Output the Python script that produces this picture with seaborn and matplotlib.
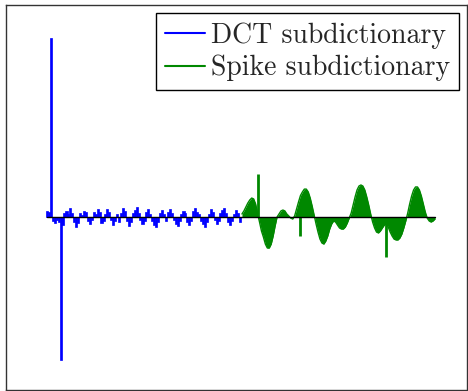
import numpy as np
import pandas as pd
import matplotlib
matplotlib.use("Agg")
import matplotlib.pyplot as plt
from matplotlib.lines import Line2D
import seaborn as sns

# DCT subdictionary coefficients (100 values)
dct_vals = [0.034, 0.028, 1.000, -0.022, -0.034, -0.017, -0.028, -0.800, -0.045, 0.022,
            0.034, 0.017, 0.050, 0.022, -0.028, -0.056, -0.034, 0.022, 0.011, 0.034,
            0.028, -0.022, -0.039, -0.017, 0.028, 0.017, 0.045, 0.028, -0.034, -0.022,
            0.017, 0.045, 0.028, -0.017, -0.045, -0.022, 0.017, -0.028, 0.022, 0.050,
            0.034, -0.022, -0.050, -0.028, 0.022, 0.039, 0.056, 0.022, -0.017, -0.039,
            -0.022, 0.028, 0.045, 0.017, -0.022, -0.045, -0.056, -0.028, 0.022, 0.039,
            0.017, -0.022, 0.028, 0.045, 0.022, -0.017, -0.039, -0.050, -0.022, 0.017,
            0.034, 0.022, -0.028, -0.045, -0.022, 0.034, 0.050, 0.028, 0.017, -0.022,
            -0.039, -0.056, -0.028, 0.017, 0.045, 0.028, -0.017, -0.039, -0.022, 0.022,
            0.039, 0.050, 0.022, -0.028, -0.045, -0.022, 0.017, 0.039, 0.022, -0.028]

# Spike subdictionary: smooth part (100 values) ...
spike_vals = [0.017, 0.034, 0.056, 0.078, 0.095, 0.106, 0.101, 0.073, 0.020, -0.028,
              -0.078, -0.112, -0.151, -0.173, -0.173, -0.151, -0.106, -0.050, 0.000, 0.017,
              0.034, 0.039, 0.034, 0.017, 0.006, -0.006, -0.011, 0.006, 0.045, 0.084,
              0.120, 0.140, 0.156, 0.156, 0.140, 0.106, 0.061, 0.011, -0.039, -0.084,
              -0.123, -0.145, -0.151, -0.134, -0.106, -0.067, -0.039, -0.022, -0.028, -0.045,
              -0.061, -0.067, -0.067, -0.056, -0.034, -0.006, 0.022, 0.067, 0.112, 0.151,
              0.173, 0.179, 0.173, 0.151, 0.112, 0.067, 0.017, -0.028, -0.061, -0.084,
              -0.089, -0.078, -0.061, -0.045, -0.035, -0.056, -0.084, -0.106, -0.123, -0.128,
              -0.128, -0.117, -0.095, -0.061, -0.022, 0.022, 0.073, 0.117, 0.151, 0.168,
              0.168, 0.151, 0.117, 0.073, 0.028, -0.006, -0.022, -0.028, -0.022, -0.011]
# ... and isolated spikes (position within the spike block, value)
spike_pos = [8, 30, 74]
spike_amp = [0.240, -0.106, -0.223]

labels = ["DCT subdictionary", "Spike subdictionary"]
colors = ["#0000ff", "#008800"]

n = len(dct_vals)
dct_df = pd.DataFrame({"idx": np.arange(n), "val": dct_vals,
                       "dict": labels[0]})
spk_df = pd.DataFrame({"idx": n + np.arange(len(spike_vals)), "val": spike_vals,
                       "dict": labels[1]})
pk_df = pd.DataFrame({"idx": [n + p for p in spike_pos], "val": spike_amp})

sns.set_style("white")
plt.rcParams["font.family"] = ["cmr10", "DejaVu Serif"]
plt.rcParams["axes.formatter.use_mathtext"] = True

fig = plt.figure(figsize=(4.68, 3.91), dpi=100)
ax = fig.add_axes([6 / 468, 1 / 391, 461 / 468, 385 / 391])

# DCT coefficients as dense stems (bars)
sns.barplot(data=dct_df, x="idx", y="val", color=colors[0], native_scale=True,
            width=1.0, errorbar=None, saturation=1, linewidth=0, ax=ax)
for p in ax.patches:
    c = p.get_x() + p.get_width() / 2
    p.set_x(c - 0.55)
    p.set_width(1.1)
    p.set_edgecolor(colors[0])
    p.set_linewidth(0.5)

# Spike block: dense smooth part filled to zero
sns.lineplot(data=spk_df, x="idx", y="val", color=colors[1], lw=1.0, ax=ax)
ax.fill_between(spk_df["idx"], 0, spk_df["val"], color=colors[1], lw=0)
# isolated spikes
ax.vlines(pk_df["idx"], 0, pk_df["val"], color=colors[1], lw=2.0)

ax.plot([0, n + len(spike_vals) - 1], [0, 0], color="black", lw=1.0, zorder=5)

ax.set_xlim(-21.0, 215.4)
ax.set_ylim(-0.966, 1.184)
ax.set_xticks([])
ax.set_yticks([])
ax.set_xlabel("")
ax.set_ylabel("")
for s in ax.spines.values():
    s.set_visible(True)
    s.set_color("#333333")
    s.set_linewidth(1.0)

handles = [Line2D([0], [0], color=c, lw=1.5) for c in colors]
leg = ax.legend(handles, labels, loc="upper right",
                frameon=True, fancybox=False, framealpha=1, edgecolor="black",
                handlelength=1.45, handletextpad=0.2, labelspacing=0.22,
                borderpad=0.32, borderaxespad=0.3,
                prop={"family": "cmr10", "size": 20})
leg.get_frame().set_linewidth(1.0)

fig.savefig("out.png", dpi=100)
